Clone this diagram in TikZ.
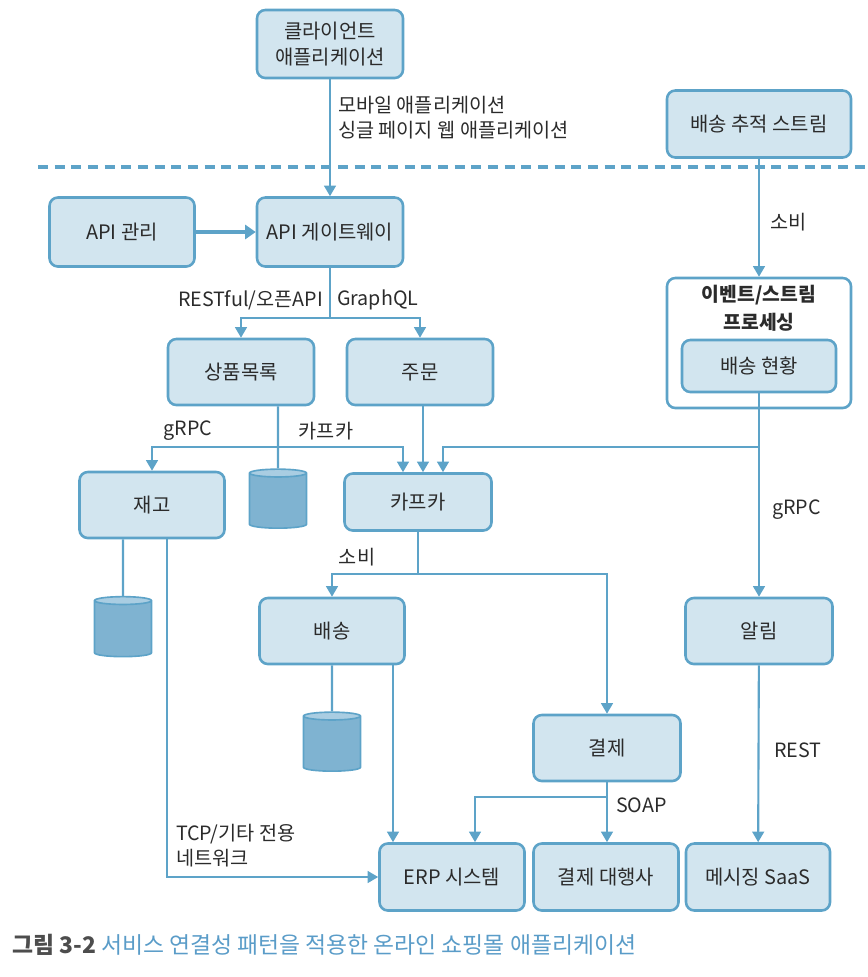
\documentclass[tikz,border=0pt]{standalone}
\usepackage{fontspec}
\setmainfont{Noto Sans CJK KR}
\usepackage{xcolor}
\usepackage{tikz}
\usetikzlibrary{shapes.geometric}
\usetikzlibrary{arrows.meta}
\definecolor{boxline}{HTML}{5DA3C8}
\definecolor{boxfill}{HTML}{D2E5EF}
\definecolor{dbfill}{HTML}{7FB3D1}
\definecolor{dbtop}{HTML}{A9CDE2}
\definecolor{txtdark}{HTML}{2B2B2B}
\definecolor{capgray}{HTML}{4D4D4D}
\definecolor{capblue}{HTML}{5A9CC8}
\begin{document}
\begin{tikzpicture}[x=0.03cm, y=-0.03cm,
    box/.style={draw=boxline, fill=boxfill, line width=2.2pt, rounded corners=0.25cm,
        minimum width=4.38cm, minimum height=1.98cm, align=center, text=txtdark,
        font=\fontsize{17}{22}\selectfont},
    lbl/.style={text=txtdark, align=left, font=\fontsize{16.8}{21.5}\selectfont},
    link/.style={draw=boxline, line width=1.8pt},
    arr/.style={link, -{Triangle[width=10pt,length=9pt]}},
    db/.style={cylinder, shape border rotate=90, aspect=1.0, draw=boxline, line width=1.4pt,
        cylinder uses custom fill, cylinder body fill=dbfill, cylinder end fill=dbtop,
        minimum width=1.71cm, minimum height=1.77cm}]
    \useasboundingbox (0,0) rectangle (868,977);

    \node[box, minimum height=2.04cm] (client) at (330,44) {클라이언트\\애플리케이션};
    \node[box, minimum width=5.52cm, minimum height=2.01cm] (track) at (759,124) {배송 추적 스트림};
    \draw[boxline, line width=2.6pt, dash pattern=on 0.3cm off 0.2cm] (38,167) -- (868,167);

    \node[box, minimum width=4.35cm, minimum height=2.07cm] (apimgmt) at (122,232) {API 관리};
    \node[box, minimum height=2.07cm] (gateway) at (330,232) {API 게이트웨이};

    \node[box] (catalog) at (241,372) {상품목록};
    \node[box] (order) at (420,372) {주문};

    \node[box, fill=white, minimum width=5.52cm, minimum height=3.9cm] (evproc) at (759,343) {};
    \node[lbl, align=center, font=\fontsize{16.5}{24}\selectfont\bfseries] (evtitle) at (759,308) {이벤트/스트림\\프로세싱};
    \node[box, minimum width=4.62cm, minimum height=1.56cm] (delivstat) at (759,366) {배송 현황};

    \node[box, minimum width=4.35cm] (stock) at (152,505) {재고};
    \node[db] (db1) at (278,502) {};
    \node[box, minimum width=4.41cm, minimum height=1.71cm] (kafka) at (418,502) {카프카};
    \node[db, minimum height=1.8cm] (db2) at (123,630) {};

    \node[box, minimum width=4.35cm] (ship) at (332,631) {배송};
    \node[box, minimum width=4.41cm] (notify) at (759,631) {알림};
    \node[db] (db3) at (332,745) {};
    \node[box, minimum width=4.41cm] (payment) at (607,748) {결제};

    \node[box, minimum width=4.35cm, minimum height=2.01cm] (erp) at (452,877) {ERP 시스템};
    \node[box, minimum width=4.35cm, minimum height=2.01cm] (pg) at (606,877) {결제 대행사};
    \node[box, minimum width=4.32cm, minimum height=2.01cm] (sms) at (758,877) {메시징 SaaS};

    \draw[arr] (client) -- (gateway);
    \node[lbl, anchor=west] (mobilelbl) at (334,118) {모바일 애플리케이션\\싱글 페이지 웹 애플리케이션};
    \draw[arr, line width=3pt, -{Triangle[width=12pt,length=9pt]}] (apimgmt) -- (gateway);

    \coordinate (gsplit) at (330,318);
    \draw[link] (gateway) -- (gsplit);
    \draw[arr] (gsplit) -| (catalog.north);
    \draw[arr] (gsplit) -| (order.north);
    \node[lbl, anchor=east] (restlbl) at (327,300) {RESTful/오픈API};
    \node[lbl, anchor=west] (gqllbl) at (333,300) {GraphQL};

    \draw[arr] (track) -- (evproc);
    \node[lbl, anchor=west] (consume1) at (766,222) {소비};

    \coordinate (csplit) at (278,447);
    \draw[link] (catalog.south -| db1) -- (db1.north);
    \draw[arr] (csplit) -| (stock.north);
    \draw[arr] (csplit) -| ([xshift=-0.45cm]kafka.north);
    \node[lbl] (grpc1) at (188,431) {gRPC};
    \node[lbl] (kafkalbl) at (326,431) {카프카};
    \draw[arr] ([xshift=0.15cm]kafka.north |- order.south) -- ([xshift=0.15cm]kafka.north);

    \coordinate (dsplit) at (759,447);
    \draw[link] (delivstat) -- (dsplit);
    \draw[arr] (dsplit) -- (notify);
    \draw[arr] (dsplit) -| ([xshift=0.75cm]kafka.north);
    \node[lbl, anchor=west] (grpc2) at (768,510) {gRPC};

    \draw[link] (stock.south -| db2) -- (db2.north);
    \draw[arr] ([xshift=0.45cm]stock.south) |- (erp.west);
    \node[lbl, anchor=west] (tcplbl) at (172,846) {TCP/기타 전용\\네트워크};

    \coordinate (ksplit) at (418,574);
    \draw[link] (kafka) -- (ksplit);
    \draw[arr] (ksplit) -| (ship.north);
    \draw[arr] (ksplit) -| (payment.north);
    \node[lbl] (consume2) at (357,557) {소비};

    \draw[link] (ship) -- (db3);
    \draw[arr] ([xshift=1.83cm]ship.south) -- ([xshift=1.83cm]ship.south |- erp.north);

    \draw[arr] (notify) -- (sms);
    \node[lbl, anchor=west] (restlbl2) at (770,750) {REST};

    \coordinate (psplit) at (607,797);
    \draw[arr] (payment.south) -- (payment.south |- pg.north);
    \draw[arr] (psplit) -| ([xshift=0.69cm]erp.north);
    \node[lbl, anchor=west] (soaplbl) at (612,805) {SOAP};

    \node[anchor=west, font=\fontsize{19.5}{24}\selectfont] (caption) at (8,945)
        {\textcolor{capgray}{\bfseries 그림 3-2} \textcolor{capblue}{서비스 연결성 패턴을 적용한 온라인 쇼핑몰 애플리케이션}};
\end{tikzpicture}
\end{document}
